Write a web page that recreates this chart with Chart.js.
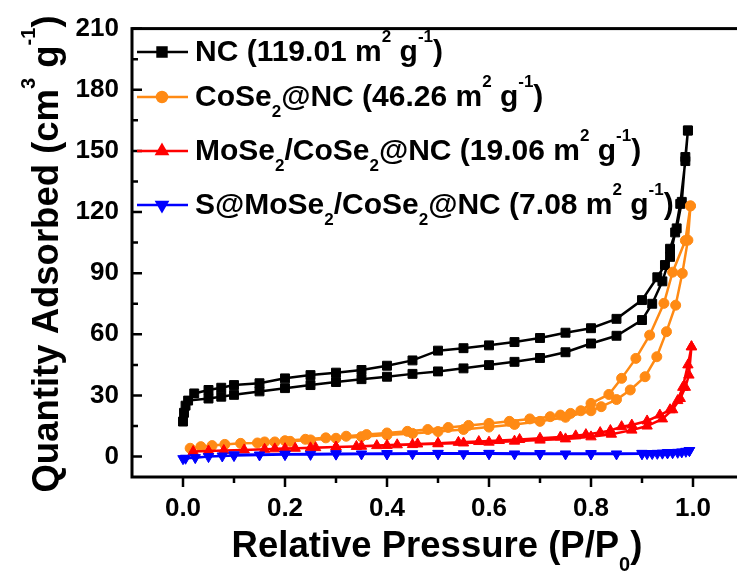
<!DOCTYPE html>
<html>
<head>
<meta charset="utf-8">
<script src="https://cdn.jsdelivr.net/npm/chart.js@4.4.1/dist/chart.umd.min.js"></script>
<style>
  html, body { margin: 0; padding: 0; background: #fff; overflow: hidden; }
  #wrap { width: 770px; height: 571px; }
</style>
</head>
<body>
<div id="wrap"><canvas id="grafikBET" width="770" height="571"></canvas></div>
<script>
// ---- data ----
// NC
const ncAdsP = [0.0, 0.002, 0.005, 0.01, 0.05, 0.075, 0.1, 0.15, 0.2, 0.25, 0.3, 0.35, 0.4, 0.45, 0.5, 0.55, 0.6, 0.65, 0.7, 0.75, 0.8, 0.85, 0.9, 0.92, 0.94, 0.955, 0.965, 0.975, 0.985, 0.99];
const ncAdsQ = [17.2, 21.5, 25.0, 27.5, 28.5, 29.4, 30.3, 32.0, 33.6, 35.1, 36.6, 38.0, 39.2, 40.6, 41.8, 43.3, 44.9, 46.5, 48.4, 51.2, 55.5, 59.3, 67.0, 75.0, 86.0, 98.0, 110.0, 124.0, 145.0, 160.0];
const ncDesP = [0.99, 0.985, 0.978, 0.968, 0.955, 0.945, 0.93, 0.9, 0.85, 0.8, 0.75, 0.7, 0.65, 0.6, 0.55, 0.5, 0.45, 0.4, 0.35, 0.3, 0.25, 0.2, 0.15, 0.1, 0.075, 0.05, 0.022];
const ncDesQ = [160, 147, 125, 112, 102, 94, 88, 76.8, 67.6, 63.0, 60.8, 58.2, 56.2, 54.6, 53.2, 52.0, 47.2, 44.6, 42.5, 41.2, 40.0, 38.4, 36.0, 35.1, 33.8, 32.7, 31.0];

// CoSe2@NC
const coAdsP = [0.014, 0.035, 0.057, 0.082, 0.113, 0.146, 0.18, 0.21, 0.25, 0.3, 0.35, 0.4, 0.45, 0.5, 0.55, 0.6, 0.65, 0.7, 0.75, 0.8, 0.82, 0.85, 0.877, 0.906, 0.929, 0.948, 0.966, 0.979, 0.99, 0.995];
const coAdsQ = [4.1, 4.9, 5.4, 6.0, 6.5, 6.7, 7.2, 7.5, 8.2, 9.0, 9.8, 10.6, 11.4, 12.3, 13.3, 14.5, 15.8, 17.3, 19.3, 22.5, 24.5, 28.0, 32.7, 39.2, 49.0, 61.3, 74.3, 89.9, 106.2, 123.0];
const coDesP = [0.995, 0.985, 0.96, 0.943, 0.915, 0.888, 0.86, 0.835, 0.8, 0.78, 0.76, 0.74, 0.72, 0.68, 0.64, 0.6, 0.56, 0.52, 0.48, 0.44, 0.4, 0.36, 0.32, 0.28, 0.24, 0.2, 0.16];
const coDesQ = [123, 106, 90.5, 75.2, 59.6, 48.2, 38.4, 30.5, 26.1, 22.5, 21.2, 20.4, 19.6, 18.5, 17.3, 16.3, 15.3, 14.3, 13.3, 12.4, 11.6, 10.8, 10.0, 9.2, 8.5, 7.8, 7.2];

// MoSe2/CoSe2@NC
const moAdsP = [0.02, 0.05, 0.08, 0.12, 0.16, 0.2, 0.25, 0.3, 0.35, 0.4, 0.45, 0.5, 0.55, 0.6, 0.65, 0.7, 0.75, 0.8, 0.84, 0.88, 0.91, 0.94, 0.96, 0.975, 0.985, 0.992, 0.997];
const moAdsQ = [2.5, 2.8, 3.0, 3.3, 3.6, 3.9, 4.3, 4.7, 5.1, 5.5, 5.9, 6.3, 6.7, 7.1, 7.6, 8.1, 8.7, 9.7, 11.0, 13.0, 15.0, 18.5, 23.0, 28.5, 34.0, 40.0, 53.9];
const moDesP = [0.997, 0.99, 0.98, 0.97, 0.955, 0.935, 0.91, 0.88, 0.86, 0.838, 0.818, 0.79, 0.77, 0.74, 0.7, 0.66, 0.62, 0.58, 0.54, 0.5, 0.46, 0.42, 0.38, 0.34, 0.3, 0.26, 0.22, 0.18];
const moDesQ = [53.9, 45.0, 34.0, 27.5, 23.0, 20.4, 17.5, 15.5, 14.7, 12.8, 11.8, 10.8, 10.2, 9.6, 9.0, 8.4, 7.9, 7.4, 7.0, 6.6, 6.2, 5.8, 5.4, 5.0, 4.7, 4.4, 4.1, 3.8];

// S@MoSe2/CoSe2@NC
const sAdsP = [0.0, 0.005, 0.024, 0.05, 0.077, 0.1, 0.15, 0.2, 0.25, 0.3, 0.35, 0.4, 0.45, 0.5, 0.55, 0.6, 0.65, 0.7, 0.75, 0.8, 0.85, 0.9, 0.91, 0.92, 0.93, 0.94, 0.95, 0.96, 0.97, 0.978, 0.986, 0.993];
const sAdsQ = [-1.0, -0.8, -0.5, 0.0, 0.3, 0.5, 0.8, 1.0, 1.1, 1.2, 1.3, 1.3, 1.4, 1.4, 1.4, 1.4, 1.3, 1.3, 1.3, 1.3, 1.3, 1.4, 1.5, 1.5, 1.6, 1.7, 1.8, 1.9, 2.1, 2.3, 2.6, 3.0];
const sDesP = [0.993, 0.95, 0.9, 0.8, 0.7, 0.6, 0.5, 0.4, 0.3, 0.2, 0.1];
const sDesQ = [3.0, 2.0, 1.6, 1.5, 1.5, 1.6, 1.6, 1.5, 1.4, 1.2, 0.9];

// tick
const xTickVals = [0.0, 0.1, 0.2, 0.3, 0.4, 0.5, 0.6, 0.7, 0.8, 0.9, 1.0];
const yTickVals = [0, 15, 30, 45, 60, 75, 90, 105, 120, 135, 150, 165, 180, 195, 210];

// label legend & judul sumbu (potongan teks: [teks, 'sup'|'sub'])
const legendNC = [["NC (119.01 m"], ["2", "sup"], [" g"], ["-1", "sup"], [")"]];
const legendCo = [["CoSe"], ["2", "sub"], ["@NC (46.26 m"], ["2", "sup"], [" g"], ["-1", "sup"], [")"]];
const legendMo = [["MoSe"], ["2", "sub"], ["/CoSe"], ["2", "sub"], ["@NC (19.06 m"], ["2", "sup"], [" g"], ["-1", "sup"], [")"]];
const legendS = [["S@MoSe"], ["2", "sub"], ["/CoSe"], ["2", "sub"], ["@NC (7.08 m"], ["2", "sup"], [" g"], ["-1", "sup"], [")"]];
const judulX = [["Relative Pressure (P/P"], ["0", "sub"], [")"]];
const judulY = [["Quantity Adsorbed (cm"], ["3", "sup"], [" g"], ["-1", "sup"], [")"]];

const FONT = '"Liberation Sans", Arial, sans-serif';

function gabung(p, q) {
  return p.map((x, i) => ({ x, y: q[i] }));
}

// tulis teks dengan superscript / subscript
function tulisRich(ctx, segs, x, y, size, align) {
  const kecil = Math.round(size * 0.55);
  let w = 0;
  segs.forEach(s => {
    ctx.font = 'bold ' + (s[1] ? kecil : size) + 'px ' + FONT;
    w += ctx.measureText(s[0]).width;
  });
  let cx = align === 'center' ? x - w / 2 : x;
  ctx.textAlign = 'left';
  ctx.textBaseline = 'alphabetic';
  segs.forEach(s => {
    ctx.font = 'bold ' + (s[1] ? kecil : size) + 'px ' + FONT;
    let dy = 0;
    if (s[1] === 'sup') dy = -size * 0.62;
    if (s[1] === 'sub') dy = size * 0.38;
    ctx.fillText(s[0], cx, y + dy);
    cx += ctx.measureText(s[0]).width;
  });
}

const dataset = [
  { label: 'NC', ads: [ncAdsP, ncAdsQ], des: [ncDesP, ncDesQ], warna: '#000000', gaya: 'rect', r: 6.3, rot: 0, teks: legendNC, order: 4 },
  { label: 'CoSe2@NC', ads: [coAdsP, coAdsQ], des: [coDesP, coDesQ], warna: '#ff8a14', gaya: 'circle', r: 5, rot: 0, teks: legendCo, order: 3 },
  { label: 'MoSe2/CoSe2@NC', ads: [moAdsP, moAdsQ], des: [moDesP, moDesQ], warna: '#ff0000', gaya: 'triangle', r: 6, rot: 0, teks: legendMo, order: 2 },
  { label: 'S@MoSe2/CoSe2@NC', ads: [sAdsP, sAdsQ], des: [sDesP, sDesQ], warna: '#0000ff', gaya: 'triangle', r: 6, rot: 180, teks: legendS, order: 1 }
];

// bingkai, tick ke dalam/luar, legenda, judul sumbu
const pluginBingkai = {
  id: 'bingkai',
  afterDraw(chart) {
    const { ctx, chartArea: a, scales } = chart;
    const sx = scales.x, sy = scales.y;
    ctx.save();
    ctx.strokeStyle = '#000';
    ctx.fillStyle = '#000';
    ctx.lineWidth = 3;
    ctx.strokeRect(a.left, a.top, a.right - a.left, a.bottom - a.top);

    ctx.lineWidth = 2.5;
    ctx.beginPath();
    yTickVals.forEach(v => {
      const py = sy.getPixelForValue(v);
      const len = v % 30 === 0 ? 10 : 6;
      ctx.moveTo(a.left, py);
      ctx.lineTo(a.left + len, py);
    });
    xTickVals.forEach((v, i) => {
      const px = sx.getPixelForValue(v);
      const len = i % 2 === 0 ? 10 : 6;
      ctx.moveTo(px, a.bottom);
      ctx.lineTo(px, a.bottom + len);
    });
    ctx.stroke();

    // legenda
    const barisY = [52, 97, 151, 205];
    dataset.forEach((d, i) => {
      const yy = barisY[i];
      ctx.strokeStyle = d.warna;
      ctx.fillStyle = d.warna;
      ctx.lineWidth = 2.5;
      ctx.beginPath();
      ctx.moveTo(137, yy);
      ctx.lineTo(188, yy);
      ctx.stroke();
      Chart.helpers.drawPoint(ctx, { pointStyle: d.gaya, radius: d.r, rotation: d.rot, borderWidth: 1 }, 162, yy);
      ctx.fillStyle = '#000';
      tulisRich(ctx, d.teks, 195, yy + 9, 30, 'left');
    });

    // judul sumbu
    ctx.fillStyle = '#000';
    tulisRich(ctx, judulX, (a.left + a.right) / 2 - 1, 557, 36.5, 'center');
    ctx.save();
    ctx.translate(58, 254);
    ctx.rotate(-Math.PI / 2);
    tulisRich(ctx, judulY, 0, 0, 36.5, 'center');
    ctx.restore();

    ctx.restore();
  }
};

const ctx = document.getElementById('grafikBET').getContext('2d');
new Chart(ctx, {
  type: 'scatter',
  data: {
    datasets: dataset.map(d => ({
      label: d.label,
      data: gabung(d.ads[0].concat(d.des[0]), d.ads[1].concat(d.des[1])),
      showLine: true,
      borderColor: d.warna,
      backgroundColor: d.warna,
      borderWidth: 2.5,
      pointStyle: d.gaya,
      pointRotation: d.rot,
      pointRadius: d.r,
      pointBorderWidth: 1,
      tension: 0,
      order: d.order
    }))
  },
  options: {
    responsive: false,
    animation: false,
    devicePixelRatio: 1,
    layout: { padding: { top: 27, right: 26, left: 0, bottom: 0 } },
    plugins: {
      legend: { display: false },
      tooltip: { enabled: false }
    },
    scales: {
      x: {
        type: 'linear',
        min: -0.1,
        max: 1.1,
        afterBuildTicks: s => { s.ticks = xTickVals.map(v => ({ value: v })); },
        afterFit: s => { s.height = 94; },
        grid: { display: false, drawTicks: false },
        border: { display: false },
        ticks: {
          color: '#000',
          padding: 16,
          maxRotation: 0,
          autoSkip: false,
          font: { family: FONT, size: 26, weight: 'bold' },
          callback: (v, i) => (i % 2 === 0 ? v.toFixed(1) : '')
        }
      },
      y: {
        min: -10,
        max: 210,
        afterBuildTicks: s => { s.ticks = yTickVals.map(v => ({ value: v })); },
        afterFit: s => { s.width = 132; },
        grid: { display: false, drawTicks: false },
        border: { display: false },
        ticks: {
          color: '#000',
          padding: 13,
          autoSkip: false,
          font: { family: FONT, size: 26, weight: 'bold' },
          callback: v => (v % 30 === 0 ? String(v) : '')
        }
      }
    }
  },
  plugins: [pluginBingkai]
});
</script>
</body>
</html>
